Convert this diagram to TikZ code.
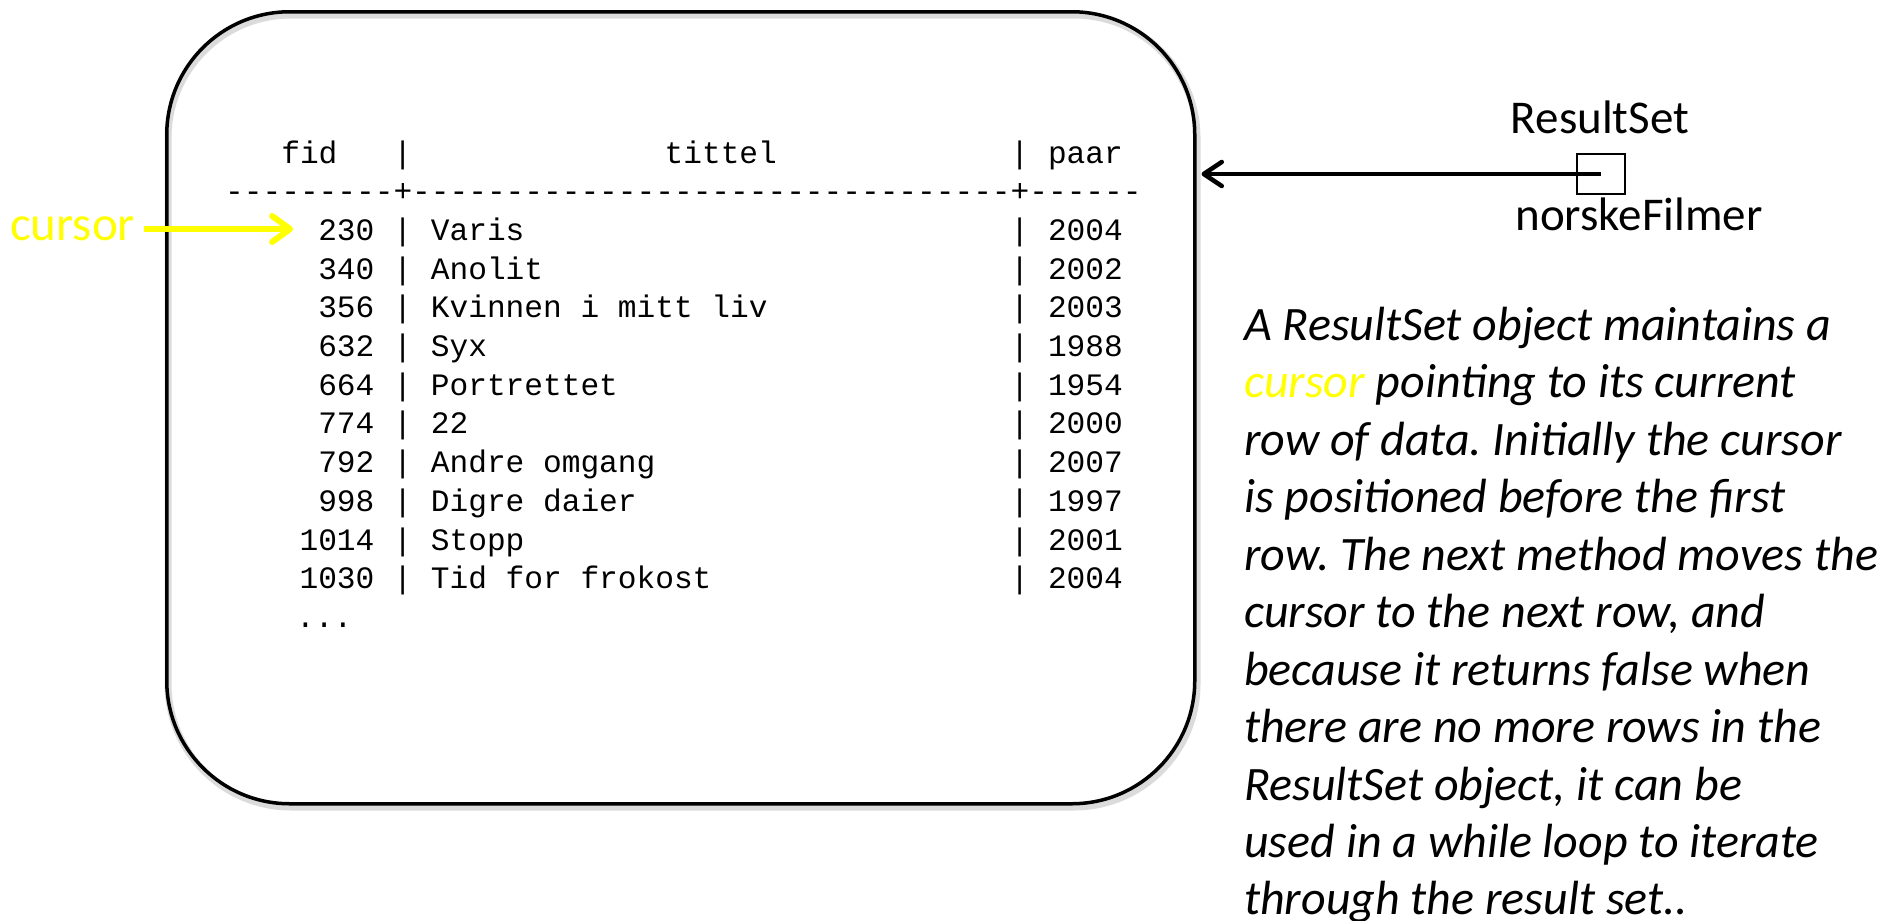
\documentclass[tikz,border=0pt]{standalone}
\usepackage{fontspec}
\newfontfamily\monof{Liberation Mono}
\newfontfamily\calib{Carlito}
\usetikzlibrary{arrows.meta}
\definecolor{curyellow}{RGB}{255,255,0}
\frenchspacing
\tikzset{
  tbl/.style={inner sep=0pt, font=\monof\fontsize{31.17}{38}\selectfont},
  lbl/.style={inner sep=0pt, font=\calib\fontsize{47}{57.5}\selectfont},
  curlbl/.style={inner sep=0pt, text=curyellow, font=\calib\fontsize{49}{57.5}\selectfont},
  para/.style={inner sep=0pt, anchor=base west, font=\calib\itshape\fontsize{48}{57.5}\selectfont},
  rsbox/.style={draw=black, line width=3.5pt, rounded corners=123pt, minimum width=1028pt, minimum height=792pt, inner sep=0pt},
  rsshadow/.style={draw=black!14, line width=7pt, rounded corners=123pt},
  ptr/.style={line width=4.5pt, -{Straight Barb[length=18pt,width=24pt,round]}},
  yptr/.style={draw=curyellow, line width=6pt, -{Straight Barb[length=18pt,width=26pt,round]}},
  varbox/.style={draw=black, line width=2pt, minimum width=48pt, minimum height=40pt, inner sep=0pt},
}
\begin{document}
\begin{tikzpicture}[x=1pt,y=-1pt]
\useasboundingbox (0,0) rectangle (1885,921);
\fill[white] (0,0) rectangle (1885,921);
% result set box
\draw[rsshadow] (168,15) rectangle (1197,807);
\node[rsbox, anchor=north west] (rs) at (165,10) {};
% table
\def\cw{18.7}
\def\xo{225}
\node[tbl, anchor=base west] (hfid) at (\xo+3*\cw,163) {fid};
\node[tbl, anchor=base] (hbar1) at (\xo+9.5*\cw,163) {|};
\node[tbl, anchor=base west] (htit) at (\xo+23.5*\cw,163) {tittel};
\node[tbl, anchor=base] (hbar2) at (\xo+42.5*\cw,163) {|};
\node[tbl, anchor=base west] (hpaar) at (\xo+44*\cw,163) {paar};
\node[tbl, anchor=base west] (dashes) at (\xo,201.7) {---------+--------------------------------+------};
\foreach \f/\t/\yr [count=\i] in {230/Varis/2004, 340/Anolit/2002, 356/Kvinnen i mitt liv/2003, 632/Syx/1988, 664/Portrettet/1954, 774/22/2000, 792/Andre omgang/2007, 998/Digre daier/1997, 1014/Stopp/2001, 1030/Tid for frokost/2004}{
  \pgfmathsetmacro{\yb}{163+(\i+1)*38.7}
  \node[tbl, anchor=base east] (fid\i) at (\xo+8*\cw,\yb) {\f};
  \node[tbl, anchor=base] (bara\i) at (\xo+9.5*\cw,\yb) {|};
  \node[tbl, anchor=base west] (tit\i) at (\xo+11*\cw,\yb) {\t};
  \node[tbl, anchor=base] (barb\i) at (\xo+42.5*\cw,\yb) {|};
  \node[tbl, anchor=base west] (yr\i) at (\xo+44*\cw,\yb) {\yr};
}
\node[tbl, anchor=base west] (dots) at (296,627.4) {...};
% cursor label and arrow
\node[curlbl, anchor=west] (cur) at (10,229) {cursor};
\draw[yptr, shorten <=9pt, shorten >=25pt] (cur.east) -- (cur.east -| fid1.west);
% ResultSet variable
\node[varbox] (var) at (1601,174) {};
\node[lbl, anchor=base] (rstype) at (1600,133) {ResultSet};
\node[lbl, anchor=base] (rsname) at (1639,230) {norskeFilmer};
\draw[ptr] (var.center) -- ([xshift=5pt]rs.east |- var.center);
% description
\node[para] (p1) at (1244,340) {A ResultSet object maintains a};
\node[para] (p2) at (1244,397.5) {{\color{curyellow}cursor} pointing to its current};
\node[para] (p3) at (1244,455) {row of data. Initially the cursor};
\node[para] (p4) at (1244,512.5) {is positioned before the first};
\node[para] (p5) at (1244,570) {row. The next method moves the};
\node[para] (p6) at (1244,627.5) {cursor to the next row, and};
\node[para] (p7) at (1244,685) {because it returns false when};
\node[para] (p8) at (1244,742.5) {there are no more rows in the};
\node[para] (p9) at (1244,800) {ResultSet object, it can be};
\node[para] (p10) at (1244,857.5) {used in a while loop to iterate};
\node[para] (p11) at (1244,914) {through the result set..};
\end{tikzpicture}
\end{document}
